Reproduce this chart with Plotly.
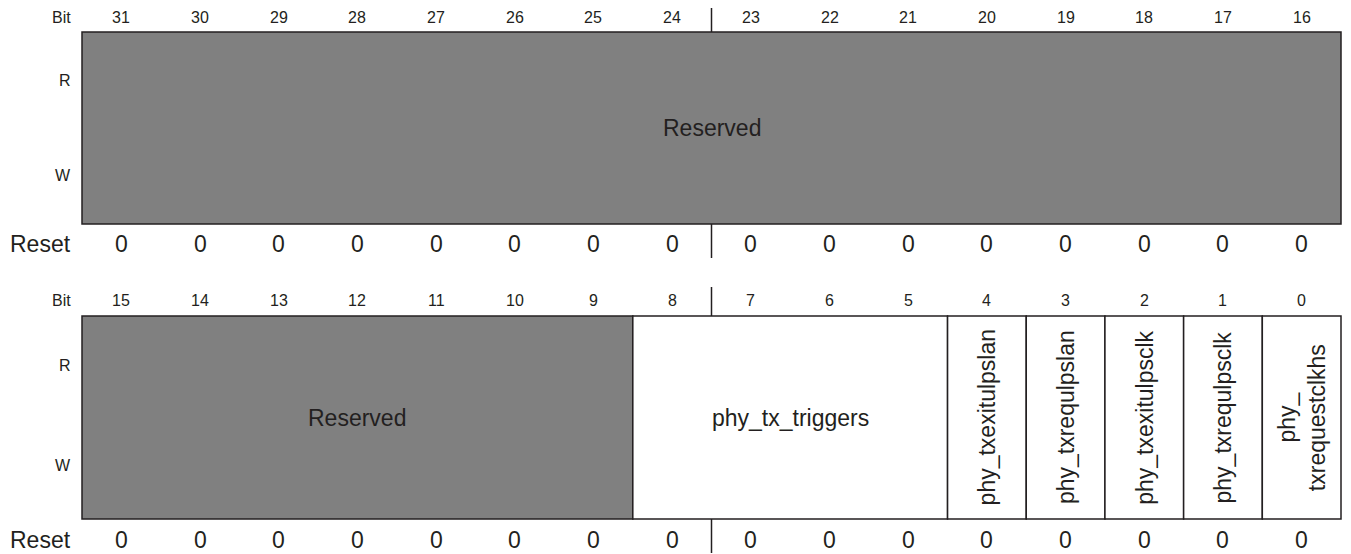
import plotly.graph_objects as go

# register layout: two 16-bit rows
row_msbs = [31, 15]
field_names = [["Reserved"],
               ["Reserved", "phy_tx_triggers", "phy_txexitulpslan", "phy_txrequlpslan",
                "phy_txexitulpsclk", "phy_txrequlpsclk", "phy_<br>txrequestclkhs"]]
field_hi = [[31], [15, 8, 4, 3, 2, 1, 0]]
field_lo = [[16], [9, 5, 4, 3, 2, 1, 0]]
field_reserved = [[True], [True, False, False, False, False, False, False]]
reset_values = [0] * 32  # index = bit number

# vertical placement of each row (page pixels from top)
rows_y = [dict(bit=17, top=32, bottom=224, r=80, w=175, reset=244),
          dict(bit=300, top=316, bottom=519, r=365, w=465, reset=540)]

# the page body has an 8px margin, so the figure is sized to sit inside it
PAGE_OFF = 8
W, H = 1335, 546
left_px, right_px = 82, 1341
col_w = (right_px - left_px) / 16
label_x = (73 - left_px) / col_w

grey = "#808080"
ink = "#231f20"
font = "Liberation Sans, Arial, Helvetica, sans-serif"

fig = go.Figure()
shapes = []
ann = []

for r, msb in enumerate(row_msbs):
    ry = rows_y[r]
    # row labels
    for txt, y, size in [("Bit", ry["bit"], 16), ("R", ry["r"], 16),
                         ("W", ry["w"], 16), ("Reset", ry["reset"], 23)]:
        ann.append(dict(x=label_x, y=y, text=txt, showarrow=False, xanchor="right",
                        yanchor="middle", font=dict(size=size, color=ink, family=font)))
    # bit numbers and reset values
    for i in range(16):
        bit = msb - i
        ann.append(dict(x=i + 0.5, y=ry["bit"], text=str(bit), showarrow=False,
                        font=dict(size=16, color=ink, family=font)))
        ann.append(dict(x=i + 0.5, y=ry["reset"], text=str(reset_values[bit]), showarrow=False,
                        font=dict(size=23, color=ink, family=font)))
    # byte dividers
    shapes.append(dict(type="line", x0=8, x1=8, y0=ry["top"] - 29, y1=ry["top"],
                       line=dict(color=ink, width=1.5)))
    shapes.append(dict(type="line", x0=8, x1=8, y0=ry["bottom"], y1=ry["bottom"] + 34,
                       line=dict(color=ink, width=1.5)))
    # fields
    for name, hi, lo, res in zip(field_names[r], field_hi[r], field_lo[r], field_reserved[r]):
        x0 = msb - hi
        x1 = msb - lo + 1
        shapes.append(dict(type="rect", x0=x0, x1=x1, y0=ry["top"], y1=ry["bottom"],
                           fillcolor=grey if res else "white",
                           line=dict(color=ink, width=1.5), layer="below"))
        single = hi == lo
        ann.append(dict(x=(x0 + x1) / 2, y=(ry["top"] + ry["bottom"]) / 2, text=name,
                        showarrow=False, textangle=-90 if single else 0,
                        font=dict(size=23, color=ink, family=font)))

fig.update_layout(
    width=W, height=H,
    margin=dict(l=0, r=0, t=0, b=0),
    paper_bgcolor="white", plot_bgcolor="white",
    shapes=shapes, annotations=ann, showlegend=False,
    xaxis=dict(range=[(PAGE_OFF - left_px) / col_w, (PAGE_OFF + W - left_px) / col_w],
               visible=False, fixedrange=True),
    yaxis=dict(range=[PAGE_OFF + H, PAGE_OFF], visible=False, fixedrange=True),
)

fig.write_html("out.html")
